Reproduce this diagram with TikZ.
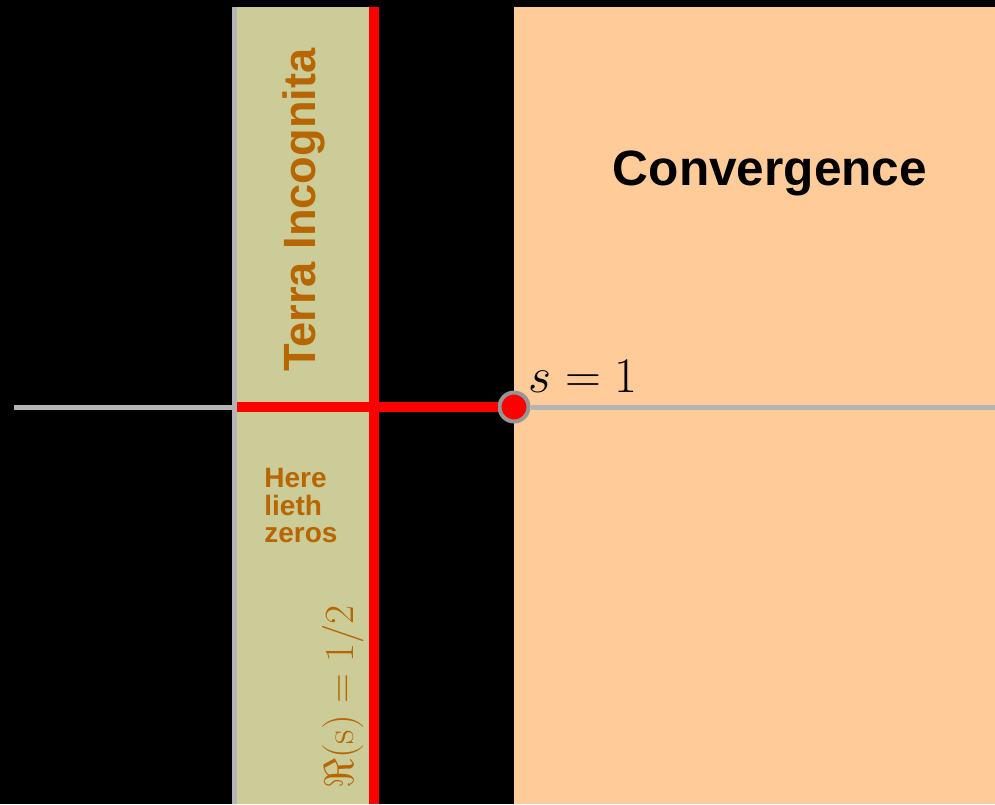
\documentclass[tikz,border=0pt]{standalone}
\usepackage{amsmath,amssymb}
\usepackage{fontspec}
\usepackage{tikz}
\usetikzlibrary{positioning,calc}
\newfontfamily\labelfont{Liberation Sans}
\definecolor{stripgreen}{RGB}{204,204,153}
\definecolor{convorange}{RGB}{255,204,153}
\definecolor{critred}{RGB}{255,0,0}
\definecolor{axisgray}{RGB}{180,180,180}
\definecolor{polegray}{RGB}{150,150,150}
\definecolor{stripbrown}{RGB}{184,102,0}
\tikzset{
  axisline/.style={draw=axisgray, line width=2.5pt},
  edgeline/.style={draw=axisgray, line width=2.5pt},
  critline/.style={draw=critred, line width=5pt},
  pole/.style={circle, fill=critred, draw=polegray, line width=2pt, minimum size=14.5pt, inner sep=0pt},
  bigtitle/.style={font=\labelfont\bfseries\fontsize{24.8}{25}\selectfont, inner sep=0pt},
  striptitle/.style={font=\labelfont\bfseries\fontsize{22.6}{23}\selectfont, text=stripbrown, inner sep=0pt, rotate=90},
  stripnote/.style={font=\labelfont\bfseries\fontsize{14}{13.75}\selectfont, text=stripbrown, inner sep=0pt, align=left},
  mathlabel/.style={inner sep=0pt}
}
\begin{document}
\begin{tikzpicture}[x=0.5pt, y=-0.5pt]
  % background and regions
  \useasboundingbox (0,0) rectangle (995,804);
  \fill[black] (0,0) rectangle (995,804);
  \fill[stripgreen] (232,7) rectangle (374,804);
  \fill[convorange] (514,7) rectangle (995,804);

  % critical line
  \coordinate (crittop) at (374,7);
  \coordinate (critbot) at (374,804);
  \draw[critline] (crittop)--(critbot);

  % real axis
  \coordinate (west) at (14,407);
  \coordinate (stripwest) at (234,407);
  \coordinate (east) at (995,407);
  \node[pole] (pole) at (514,407) {};
  \draw[axisline] (west)--(stripwest);
  \draw[critline] (stripwest)--(pole);
  \draw[axisline] (pole)--(east);

  % strip edge
  \coordinate (edgetop) at (234.5,7);
  \coordinate (edgebot) at (234.5,804);
  \draw[edgeline] (edgetop)--(edgebot);

  % labels
  \node[bigtitle, anchor=base] (conv) at (770,185) {Convergence};
  \node[striptitle, anchor=base] (terra) at (315,210) {Terra Incognita};
  \node[stripnote, anchor=north west] (zeros) at (264,468) {Here\\lieth\\zeros};
  \node[mathlabel, anchor=base west] (sone) at (528,392) {\fontsize{24}{24}\selectfont$s=1$};
  \node[mathlabel, rotate=90, anchor=base, text=stripbrown] (half) at (353,697) {\fontsize{20}{20}\selectfont$\Re(\mathrm{s})=1/2$};
\end{tikzpicture}
\end{document}
